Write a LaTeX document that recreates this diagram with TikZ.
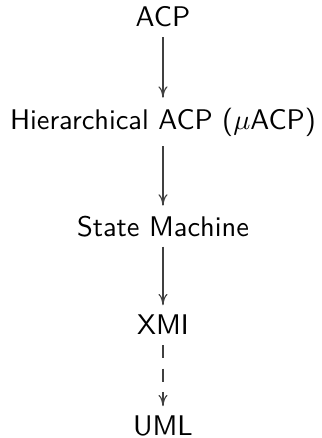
\documentclass[tikz,border=0pt]{standalone}
\usepackage{amsmath}
\usetikzlibrary{arrows.meta}

\tikzset{
  stage/.style={font=\sffamily, anchor=base},
  flow/.style={-{To[length=4pt, width=3.2pt]}, line width=0.4pt, draw=black!75},
  export/.style={flow, dash pattern=on 4.6pt off 3.7pt},
}

\begin{document}
\begin{tikzpicture}
  % Size of the page
  \useasboundingbox (-2.017, 0.334) rectangle (1.968, -5.087);

  % stages
  \node[stage] (acp) at (0, 0) {ACP};
  \node[stage] (hacp) at (0, -1.263) {Hierarchical ACP ($\mu$ACP)};
  \node[stage] (sm) at (0, -2.587) {State Machine};
  \node[stage] (xmi) at (0, -3.812) {XMI};
  \node[stage] (uml) at (0, -5.062) {UML};

  % draw chain
  \draw[flow] (acp.south) -- (hacp.north);
  \draw[flow] (hacp.south) -- (sm.north);
  \draw[flow] (sm.south) -- (xmi.north);
  \draw[export] (xmi.south) -- (uml.north);
\end{tikzpicture}
\end{document}
